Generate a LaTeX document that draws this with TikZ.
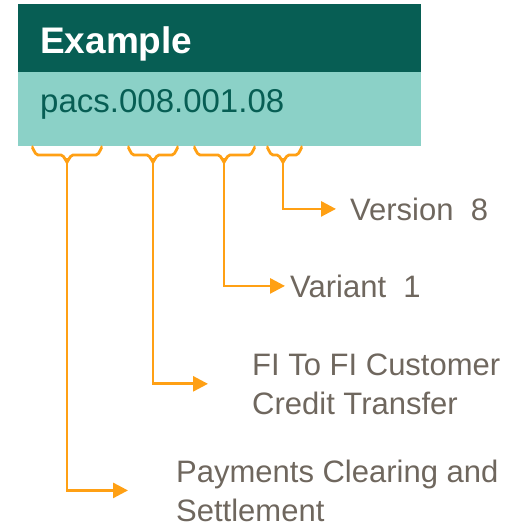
\documentclass[tikz,border=0pt]{standalone}
\usepackage{fontspec}
\setmainfont{Liberation Sans}
\usetikzlibrary{arrows.meta}
\definecolor{darkteal}{HTML}{075E54}
\definecolor{lightteal}{HTML}{8BD1C7}
\definecolor{braceorange}{HTML}{FFA014}
\definecolor{labelgray}{HTML}{6F675E}

\begin{document}
\begin{tikzpicture}[x=1pt,y=-1pt,
  brace/.style={draw=braceorange, line width=2.8pt},
  link/.style={draw=braceorange, line width=2.8pt, -{Triangle[length=15pt,width=15pt]}},
  part/.style={anchor=base west, inner sep=0, text=labelgray, align=left,
    font=\fontsize{31}{39}\selectfont}]
 \useasboundingbox (0,0) rectangle (515,527);
 % header boxes
 \fill[darkteal] (18,4) rectangle (421,72);
 \fill[lightteal] (18,72) rectangle (421,146);
 \node[anchor=base west, inner sep=0, text=white, font=\fontsize{37}{40}\selectfont\bfseries] (title) at (40,53) {Example};
 \node[anchor=base west, inner sep=0, text=darkteal, font=\fontsize{33}{40}\selectfont] (code) at (40,112) {pacs.008.001.08};
 % braces under the code
 \foreach \l/\c/\r/\n in {32/67/102/b1, 128/153/178/b2, 194/224/255/b3, 267/283/302/b4} {
  \draw[brace] (\l,148) to[out=90,in=180] (\l+6,155) -- (\c-6,155) to[out=0,in=-90] (\c,161);
  \draw[brace] (\r,148) to[out=90,in=0] (\r-6,155) -- (\c+6,155) to[out=180,in=-90] (\c,161);
  \coordinate (\n) at (\c,158);
 }
 % labels (base = last line)
 \node[part] (ver) at (350,220) {Version\ \ 8};
 \node[part] (var) at (290,297) {Variant\ \ 1};
 \node[part] (fn) at (252,414) {FI To FI Customer\\Credit Transfer};
 \node[part] (biz) at (176,521) {Payments Clearing and\\Settlement};
 \draw[link, shorten >=14pt] (b4) |- (ver.west);
 \draw[link, shorten >=5pt] (b3) |- (var.west);
 \draw[link, shorten >=44pt] (b2) |- (fn.west);
 \draw[link, shorten >=48pt] (b1) |- (biz.west);
\end{tikzpicture}
\end{document}
